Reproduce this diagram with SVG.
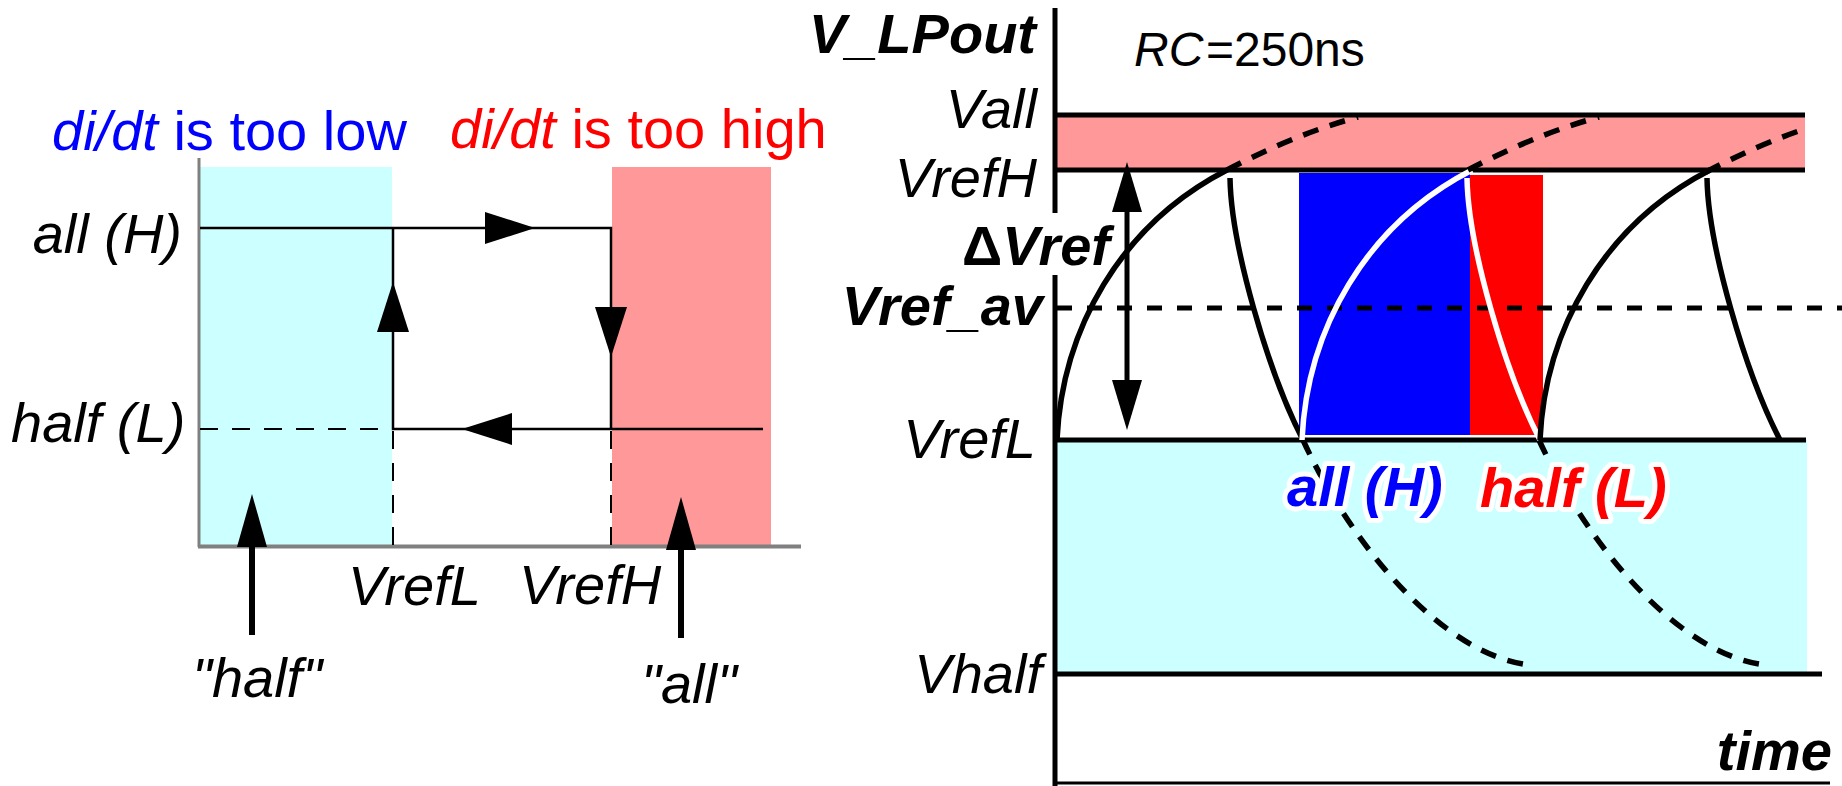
<svg xmlns="http://www.w3.org/2000/svg" width="1842" height="786" viewBox="0 0 1842 786">
<style>
.t{font-family:"Liberation Sans",Arial,Helvetica,sans-serif;font-size:56px;fill:#000}
.i{font-style:italic}
.b{font-weight:bold}
.halo{stroke:#fff;stroke-width:10px;paint-order:stroke;stroke-linejoin:round}
.ln{stroke:#000;stroke-width:2.5;fill:none}
.ax{stroke:#808080;fill:none}
.dl{stroke:#000;stroke-width:2;stroke-dasharray:18 14;fill:none}
.thick{stroke:#000;stroke-width:5;fill:none}
.cv{stroke:#000;stroke-width:5.5;fill:none}
.cvw{stroke:#fff;stroke-width:5.5;fill:none}
.cvd{stroke:#000;stroke-width:5.5;fill:none;stroke-dasharray:16 12}
</style>
<defs>
<path id="ahL" d="M0,0 L-50,-16 L-50,16 Z"/>
<path id="ahB" d="M0,0 L-53,-15 L-53,15 Z"/>
<path id="ahC" d="M0,0 L-50,-15 L-50,15 Z"/>
<path id="rise" d="M0,0 C5,-110 63,-215 170,-270"/>
<path id="riseD" d="M170,-270 C208,-290 253,-310 301,-323"/>
<path id="fall" d="M0,0 C1,67 38,194 73,262"/>
<path id="fallD" d="M73,262 C118,361 210,477 300,487"/>
<clipPath id="bandclip"><rect x="1057" y="0" width="748" height="786"/></clipPath>
</defs>

<g id="left-panel">
  <g id="zone-low"><rect x="200" y="167" width="192" height="378" fill="#ccffff"/></g>
  <g id="zone-high"><rect x="612" y="167" width="159" height="378" fill="#ff9999"/></g>
  <g id="left-axes">
    <line class="ax" x1="199" y1="158" x2="199" y2="547" stroke-width="3"/>
    <line class="ax" x1="198" y1="546.5" x2="801" y2="546.5" stroke-width="4"/>
  </g>
  <g id="left-title-low"><text class="t" x="52" y="150" style="fill:#0000ff"><tspan class="i">di/dt</tspan> is too low</text></g>
  <g id="left-title-high"><text class="t" x="450" y="148" style="fill:#ff0000"><tspan class="i">di/dt</tspan> is too high</text></g>
  <g id="label-allH"><text class="t i" x="182" y="253" text-anchor="end">all (H)</text></g>
  <g id="label-halfL"><text class="t i" x="11" y="442">half (L)</text></g>
  <g id="label-VrefL-left"><text class="t i" x="348" y="605">VrefL</text></g>
  <g id="label-VrefH-left"><text class="t i" x="519" y="604">VrefH</text></g>
  <g id="label-half-q"><text class="t i" x="192" y="697">"half"</text></g>
  <g id="label-all-q"><text class="t i" x="641" y="703">"all"</text></g>
</g>

<g id="left-connectors">
  <polyline class="ln" points="200,228 611,228 611,429"/>
  <polyline class="ln" points="763,429 393,429 393,228"/>
  <line class="dl" x1="200" y1="429" x2="393" y2="429"/>
  <line class="dl" x1="393" y1="431" x2="393" y2="545"/>
  <line class="dl" x1="611" y1="431" x2="611" y2="545"/>
  <use href="#ahL" transform="translate(535,228)"/>
  <use href="#ahL" transform="translate(393,282) rotate(-90)"/>
  <use href="#ahL" transform="translate(611,357) rotate(90)"/>
  <use href="#ahL" transform="translate(462,429) rotate(180)"/>
  <line stroke="#000" stroke-width="6" x1="252" y1="635" x2="252" y2="520"/>
  <use href="#ahB" transform="translate(252,494) rotate(-90)"/>
  <line stroke="#000" stroke-width="6" x1="681" y1="638" x2="681" y2="520"/>
  <use href="#ahB" transform="translate(681,497) rotate(-90)"/>
</g>

<g id="right-panel">
  <g id="band-all"><rect x="1057" y="115" width="748" height="55" fill="#ff9999"/></g>
  <g id="band-half"><rect x="1057" y="440" width="750" height="235" fill="#ccffff"/></g>
  <g id="rect-allH"><rect x="1299" y="173" width="171" height="262" fill="#0000ff"/></g>
  <g id="rect-halfL"><rect x="1470" y="175" width="73" height="260" fill="#ff0000"/></g>
  <g id="levels">
    <line class="thick" x1="1055" y1="115" x2="1805" y2="115"/>
    <line class="thick" x1="1055" y1="170" x2="1805" y2="170"/>
    <line class="thick" x1="1055" y1="440" x2="1806" y2="440"/>
    <line class="thick" x1="1055" y1="674" x2="1822" y2="674"/>
    <line stroke="#000" stroke-width="5" stroke-dasharray="15 15" x1="1057" y1="308" x2="1842" y2="308"/>
    <line stroke="#000" stroke-width="3" x1="1055" y1="783" x2="1830" y2="783"/>
    <line class="thick" x1="1055" y1="8" x2="1055" y2="213"/>
    <line class="thick" x1="1055" y1="275" x2="1055" y2="786"/>
  </g>
</g>

<g id="waveform">
  <use href="#rise" class="cv" transform="translate(1057,440)"/>
  <use href="#riseD" class="cvd" transform="translate(1057,440)"/>
  <use href="#fall" class="cv" transform="translate(1230,178)"/>
  <use href="#fallD" class="cvd" transform="translate(1230,178)"/>
  <use href="#rise" class="cvw" transform="translate(1302,440)"/>
  <use href="#riseD" class="cvd" transform="translate(1298,440)"/>
  <use href="#fall" class="cvw" transform="translate(1467,178)"/>
  <use href="#fallD" class="cvd" transform="translate(1466,178)"/>
  <use href="#rise" class="cv" transform="translate(1540,440)"/>
  <g clip-path="url(#bandclip)"><use href="#riseD" class="cvd" transform="translate(1536,442)"/></g>
  <use href="#fall" class="cv" transform="translate(1707,178)"/>
</g>

<g id="delta-arrow">
  <line stroke="#000" stroke-width="5" x1="1127" y1="200" x2="1127" y2="395"/>
  <use href="#ahC" transform="translate(1127,162) rotate(-90)"/>
  <use href="#ahC" transform="translate(1127,430) rotate(90)"/>
</g>

<g id="right-labels">
  <g id="label-VLPout"><text class="t b i" x="1036" y="53" text-anchor="end">V_LPout</text></g>
  <g id="label-RC">
    <text class="t i" x="1134" y="66" style="font-size:48px">RC</text>
    <text class="t" x="1206" y="66" style="font-size:48px">=250ns</text>
  </g>
  <g id="label-Vall"><text class="t i" x="1037" y="128" text-anchor="end">Vall</text></g>
  <g id="label-VrefH"><text class="t i" x="1037" y="197" text-anchor="end">VrefH</text></g>
  <g id="label-dVref"><text class="t b" x="962" y="265" textLength="148" lengthAdjust="spacingAndGlyphs">Δ<tspan class="i">Vref</tspan></text></g>
  <g id="label-Vrefav"><text class="t b i" x="1043" y="325" text-anchor="end">Vref_av</text></g>
  <g id="label-VrefL"><text class="t i" x="1036" y="458" text-anchor="end">VrefL</text></g>
  <g id="label-Vhalf"><text class="t i" x="1042" y="693" text-anchor="end">Vhalf</text></g>
  <g id="label-time"><text class="t b i" x="1832" y="770" text-anchor="end">time</text></g>
  <g id="label-allH-right"><text class="t b i halo" x="1287" y="506" style="fill:#0000ff">all (H)</text></g>
  <g id="label-halfL-right"><text class="t b i halo" x="1480" y="507" style="fill:#ff0000">half (L)</text></g>
</g>
</svg>
